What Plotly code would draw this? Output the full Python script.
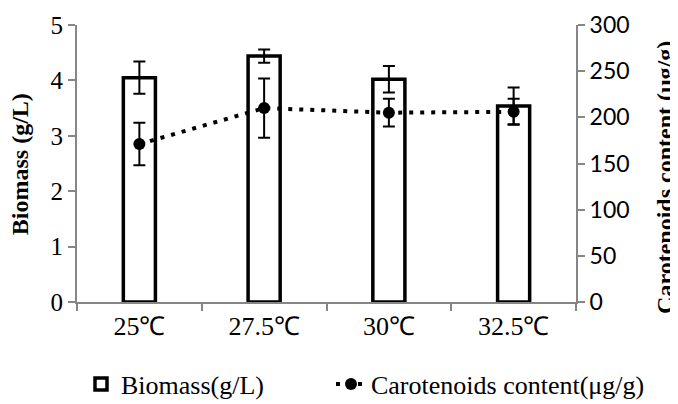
import plotly.graph_objects as go

temperatures = ["25℃", "27.5℃", "30℃", "32.5℃"]
biomass = [4.05, 4.44, 4.02, 3.54]
biomass_err = [0.29, 0.12, 0.24, 0.33]
carotenoids = [171, 210, 205, 206]
carotenoids_err = [23, 32, 15, 14]

left_ticks = [0, 1, 2, 3, 4, 5]
right_ticks = [0, 50, 100, 150, 200, 250, 300]

SERIF = "Liberation Serif, Times New Roman, serif"
SANS = "Lato, Liberation Sans, sans-serif"
AXIS_GRAY = "#868686"

fig = go.Figure()
fig.add_trace(go.Bar(
    x=temperatures, y=biomass, name="Biomass(g/L)",
    marker=dict(color="white", line=dict(color="black", width=3.5)),
    error_y=dict(type="data", array=biomass_err, color="black", thickness=2, width=6),
    yaxis="y", legend="legend",
))
fig.add_trace(go.Scatter(
    x=temperatures, y=carotenoids, name="Carotenoids content(μg/g)",
    mode="lines+markers",
    line=dict(color="black", width=4, dash="4px,7px"),
    marker=dict(color="black", size=12, symbol="circle"),
    error_y=dict(type="data", array=carotenoids_err, color="black", thickness=2, width=6),
    yaxis="y2", legend="legend2",
))

legend_font = dict(family=SERIF, size=26, color="black")

fig.update_layout(
    width=670, height=396,
    margin=dict(l=69, r=102, t=17, b=102, autoexpand=False),
    paper_bgcolor="white", plot_bgcolor="white",
    bargap=0.743,
    showlegend=True,
    legend=dict(orientation="h", x=0.008, xanchor="left", y=-0.296, yanchor="middle",
                font=legend_font, itemwidth=30, bgcolor="rgba(0,0,0,0)"),
    legend2=dict(orientation="h", x=0.509, xanchor="left", y=-0.296, yanchor="middle",
                 font=legend_font, itemwidth=30, bgcolor="rgba(0,0,0,0)"),
    xaxis=dict(
        type="category", range=[-0.5, 3.5],
        showline=True, linecolor=AXIS_GRAY, linewidth=2,
        ticks="outside", tickson="boundaries", ticklen=7, tickcolor=AXIS_GRAY, tickwidth=2,
        tickfont=dict(family=SERIF, size=26, color="black"),
        showgrid=False, zeroline=False,
    ),
    yaxis=dict(
        range=[0, 5], tickvals=left_ticks,
        showline=True, linecolor=AXIS_GRAY, linewidth=2,
        ticks="outside", ticklen=7, tickcolor=AXIS_GRAY, tickwidth=2,
        tickfont=dict(family=SERIF, size=25, color="black"),
        showgrid=False, zeroline=False,
    ),
    yaxis2=dict(
        range=[0, 300], tickvals=right_ticks, overlaying="y", side="right",
        showline=True, linecolor=AXIS_GRAY, linewidth=2,
        ticks="outside", ticklen=7, tickcolor=AXIS_GRAY, tickwidth=2,
        tickfont=dict(family=SANS, size=23, color="black"),
        showgrid=False, zeroline=False,
    ),
    annotations=[
        dict(text="<b>Biomass (g/L)</b>", xref="paper", yref="paper",
             x=-0.114, y=0.498, textangle=-90, showarrow=False,
             font=dict(family=SERIF, size=24, color="black"),
             xanchor="center", yanchor="middle"),
        dict(text="<b>Carotenoids content (μg/g)</b>", xref="paper", yref="paper",
             x=1.178, y=0.451, textangle=-90, showarrow=False,
             font=dict(family=SERIF, size=24, color="black"),
             xanchor="center", yanchor="middle"),
    ],
)

fig.write_html("out.html")
